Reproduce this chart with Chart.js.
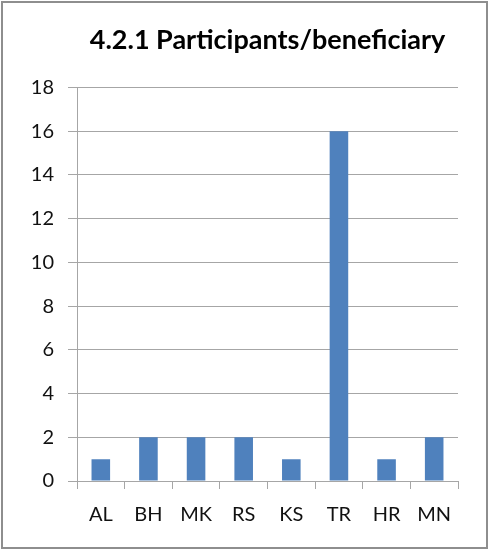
<!DOCTYPE html>
<html>
<head>
<meta charset="utf-8">
<script src="https://cdn.jsdelivr.net/npm/chart.js@4"></script>
<style>
  html, body { margin: 0; padding: 0; background: #fff; }
  #frame { position: absolute; left: 1px; top: 1px; width: 483px; height: 544px; border: 2px solid #8e8e8e; }
  #wrap { position: absolute; left: 0; top: 0; width: 490px; height: 549px; }
</style>
</head>
<body>
<div id="frame"></div>
<div id="wrap"><canvas id="chart" width="490" height="549"></canvas></div>
<script>
// Data
const COUNTRIES = ['AL', 'BH', 'MK', 'RS', 'KS', 'TR', 'HR', 'MN'];
const PARTICIPANTS = [1, 2, 2, 2, 1, 16, 1, 2];
const Y_TICKS = [0, 2, 4, 6, 8, 10, 12, 14, 16, 18];

const FONT = 'Lato, "Open Sans", sans-serif';

new Chart(document.getElementById('chart'), {
    type: 'bar',
    data: {
        labels: COUNTRIES,
        datasets: [{
            label: 'Participants/beneficiary',
            data: PARTICIPANTS,
            backgroundColor: '#4f81bd',
            categoryPercentage: 1,
            barPercentage: 0.39
        }]
    },
    options: {
        responsive: false,
        animation: false,
        layout: { padding: { left: 0, right: 32, top: 0, bottom: 0 } },
        plugins: {
            legend: { display: false },
            tooltip: { enabled: false },
            title: {
                display: true,
                text: '4.2.1 Participants/beneficiary',
                color: '#000',
                fullSize: false,
                font: { family: FONT, size: 27, weight: 'bold' },
                padding: { top: 24, bottom: 31 }
            }
        },
        scales: {
            y: {
                min: 0,
                max: 18,
                afterBuildTicks: axis => { axis.ticks = Y_TICKS.map(v => ({ value: v })); },
                afterFit: axis => { axis.width = 77; },
                grid: { color: '#a6a6a6', lineWidth: 1, tickLength: 9 },
                border: { display: true, color: '#a6a6a6' },
                ticks: { color: '#111', padding: 14, font: { family: FONT, size: 20 } }
            },
            x: {
                afterFit: axis => { axis.height = 68; },
                grid: { display: true, drawOnChartArea: false, drawTicks: true, tickLength: 8, color: '#a6a6a6', offset: true },
                border: { display: true, color: '#a6a6a6' },
                ticks: { color: '#111', padding: 14, font: { family: FONT, size: 20 } }
            }
        }
    }
});
</script>
</body>
</html>
